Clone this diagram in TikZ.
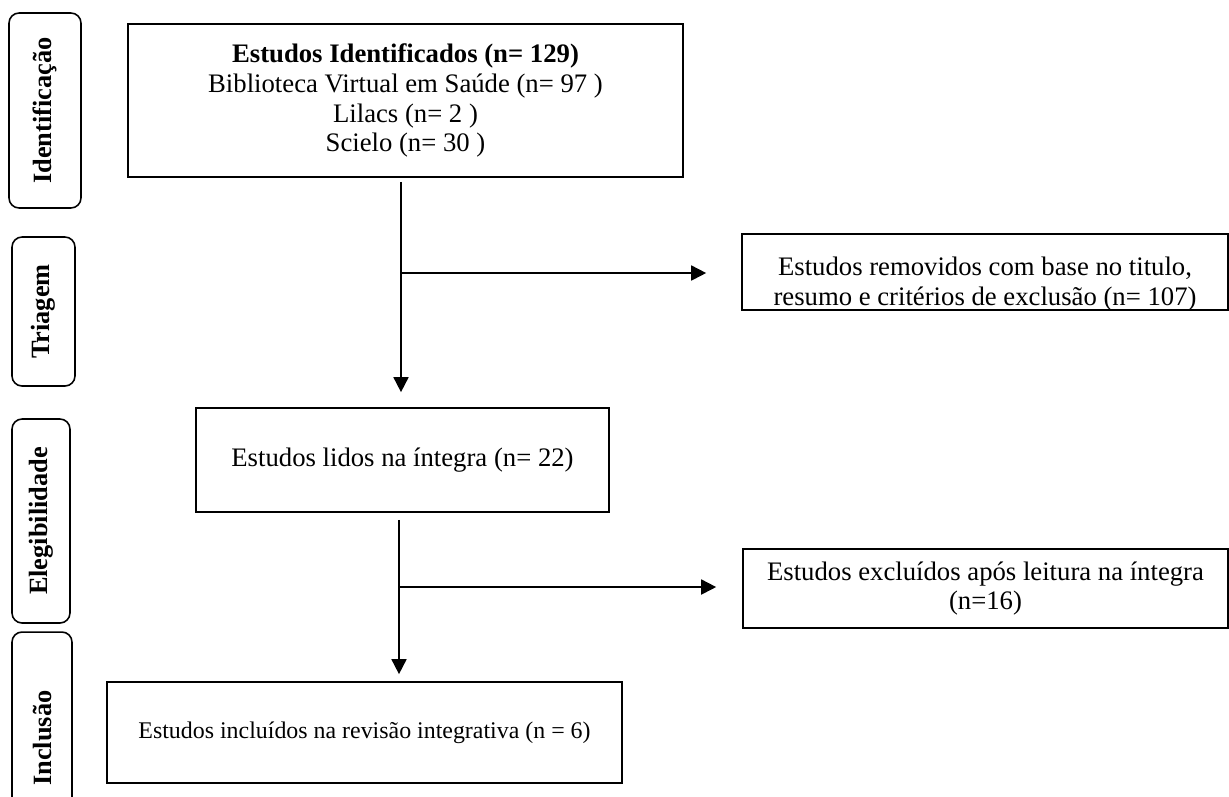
\documentclass[tikz,border=0pt]{standalone}
\usepackage{fontspec}
\setmainfont{Liberation Serif}
\usepackage{tikz}
\usetikzlibrary{positioning, shapes, arrows.meta}

\begin{document}
\begin{tikzpicture}[
    x=0.02cm, y=-0.02cm,
    box/.style={rectangle, draw, line width=1pt, align=center, inner sep=2pt, font=\fontsize{15.2}{17}\selectfont},
    boxtext/.style={align=center, inner sep=0pt, font=\fontsize{15.2}{17}\selectfont},
    phase/.style={rectangle, draw, rounded corners=0.2cm, line width=0.9pt, rotate=90, inner sep=0pt, font=\fontsize{15}{17}\selectfont\bfseries},
    arr/.style={-{Triangle[length=0.3cm, width=0.3cm]}, line width=1pt}
]
\useasboundingbox (0,0) rectangle (1229,796);

% Phase labels
\node[phase, minimum width=3.9cm, minimum height=1.44cm] (ident) at (45,110.5) {Identificação};
\node[phase, minimum width=2.98cm, minimum height=1.26cm] (triag) at (43.5,311.5) {Triagem};
\node[phase, minimum width=4.08cm, minimum height=1.16cm] (eleg) at (41,521) {Elegibilidade};
\node[phase, minimum width=4.24cm, minimum height=1.2cm] (incl) at (42,738) {Inclusão};

% Main flow
\node[box, minimum width=11.1cm, minimum height=3.06cm] (found) at (405.5,100.5)
    {\textbf{Estudos Identificados (n= 129)}\\ Biblioteca Virtual em Saúde (n= 97 )\\ Lilacs (n= 2 )\\ Scielo (n= 30 )};
\node[box, minimum width=8.26cm, minimum height=2.08cm] (read) at (402.5,460) {Estudos lidos na íntegra (n= 22)};
\node[box, minimum width=10.3cm, minimum height=2.02cm, font=\fontsize{13.6}{15.5}\selectfont] (kept) at (364.5,732.5)
    {Estudos incluídos na revisão integrativa (n = 6)};

% Exclusions
\node[box, minimum width=9.72cm, minimum height=1.52cm] (removed) at (985,272) {};
\node[boxtext] (removedtext) at (985,284)
    {Estudos removidos com base no titulo,\\ resumo e critérios de exclusão (n= 107)};
\node[box, minimum width=9.7cm, minimum height=1.58cm] (dropped) at (985.5,588.5)
    {Estudos excluídos após leitura na íntegra\\ (n=16)};

% Edges
\coordinate (j1) at (401,273);
\coordinate (j2) at (399,587);
\draw[arr, shorten <=0.08cm, shorten >=0.3cm] (j1 |- found.south) -- (j1 |- read.north);
\draw[arr, shorten >=0.7cm] (j1) -- (j1 -| removed.west);
\draw[arr, shorten <=0.14cm, shorten >=0.14cm] (j2 |- read.south) -- (j2 |- kept.north);
\draw[arr, shorten >=0.52cm] (j2) -- (j2 -| dropped.west);

\end{tikzpicture}
\end{document}
